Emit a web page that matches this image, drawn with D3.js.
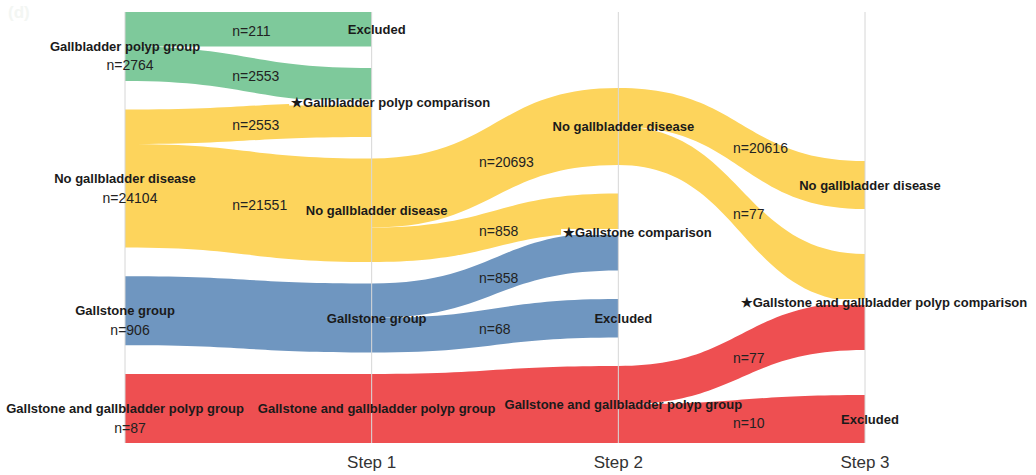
<!DOCTYPE html>
<html>
<head>
<meta charset="utf-8">
<script src="https://cdn.jsdelivr.net/npm/d3@7"></script>
<style>
  html, body { margin: 0; padding: 0; background: #fff; }
  svg { display: block; font-family: "Liberation Sans", Arial, sans-serif; }
</style>
</head>
<body>
<svg id="chart" width="1036" height="475"></svg>
<script>
// ---- data ----
const stepLabels = ['', 'Step 1', 'Step 2', 'Step 3'];

const nodeIds = ['gp0', 'nogbd0', 'gs0', 'gsgp0',
  'excl1', 'gpcmp1', 'nogbd1', 'gs1', 'gsgp1',
  'nogbd2', 'gscmp2', 'excl2', 'gsgp2',
  'nogbd3', 'gsgpcmp3', 'excl3'];
const nodeNames = ['Gallbladder polyp group', 'No gallbladder disease', 'Gallstone group', 'Gallstone and gallbladder polyp group',
  'Excluded', '\u2605Gallbladder polyp comparison', 'No gallbladder disease', 'Gallstone group', 'Gallstone and gallbladder polyp group',
  'No gallbladder disease', '\u2605Gallstone comparison', 'Excluded', 'Gallstone and gallbladder polyp group',
  'No gallbladder disease', '\u2605Gallstone and gallbladder polyp comparison', 'Excluded'];
const nodeSteps = [0, 0, 0, 0, 1, 1, 1, 1, 1, 2, 2, 2, 2, 3, 3, 3];

const linkSources = ['gp0', 'gp0', 'nogbd0', 'nogbd0', 'gs0', 'gsgp0',
  'nogbd1', 'nogbd1', 'gs1', 'gs1', 'gsgp1',
  'nogbd2', 'nogbd2', 'gsgp2', 'gsgp2'];
const linkTargets = ['excl1', 'gpcmp1', 'gpcmp1', 'nogbd1', 'gs1', 'gsgp1',
  'nogbd2', 'gscmp2', 'gscmp2', 'excl2', 'gsgp2',
  'nogbd3', 'gsgpcmp3', 'gsgpcmp3', 'excl3'];
const linkValues = [211, 2553, 2553, 21551, 906, 87,
  20693, 858, 858, 68, 87,
  20616, 77, 77, 10];
const linkGroups = ['gp', 'gp', 'nogbd', 'nogbd', 'gs', 'gsgp',
  'nogbd', 'nogbd', 'gs', 'gs', 'gsgp',
  'nogbd', 'nogbd', 'gsgp', 'gsgp'];

const groupKeys = ['gp', 'nogbd', 'gs', 'gsgp'];
const groupColors = ['#7ec99b', '#fdd45c', '#6f96c0', '#ee4f51'];

// ---- layout ----
const yTop = 12, yBottom = 443;
const colUnit = [34.5, 34.5, 38.5, 48];   // px per flow band in each column
const colGap = [28.7, 21.5, 28.5, 45];    // px between nodes in each column
const labelShift = [0.435, 0.435, 0.465]; // where the n= labels start between columns

const svg = d3.select('#chart');

const x = d3.scalePoint()
  .domain(d3.range(stepLabels.length))
  .range([125, 865]);

const color = d3.scaleOrdinal(groupKeys, groupColors);

const nodes = nodeIds.map((id, i) => ({ id, name: nodeNames[i], step: nodeSteps[i], ins: [], outs: [] }));
const byId = new Map(nodes.map(n => [n.id, n]));
const links = linkSources.map((s, i) => {
  const l = { source: byId.get(s), target: byId.get(linkTargets[i]), value: linkValues[i], group: linkGroups[i] };
  l.source.outs.push(l);
  l.target.ins.push(l);
  return l;
});

// band weight = number of end branches that a flow feeds
function weight(l) {
  if (l.w != null) return l.w;
  l.w = l.target.outs.length ? d3.sum(l.target.outs, weight) : 1;
  return l.w;
}
links.forEach(weight);

nodes.forEach(n => {
  n.units = Math.max(d3.sum(n.ins, l => l.w), d3.sum(n.outs, l => l.w));
  n.value = n.ins.length ? d3.sum(n.ins, l => l.value) : d3.sum(n.outs, l => l.value);
});

// stack nodes from the bottom of each column
d3.groups(nodes, n => n.step).forEach(([step, col]) => {
  let y = yBottom;
  col.slice().reverse().forEach(n => {
    n.y1 = y;
    n.y0 = y - n.units * colUnit[step];
    y = n.y0 - colGap[step];
  });
});

nodes.forEach(n => {
  let y = n.y0;
  n.outs.forEach(l => { l.sy0 = y; y += l.w * colUnit[n.step]; l.sy1 = y; });
  y = n.y0;
  n.ins.forEach(l => { l.ty0 = y; y += l.w * colUnit[n.step]; l.ty1 = y; });
});

function bandPath(l) {
  const x0 = x(l.source.step), x1 = x(l.target.step), xm = (x0 + x1) / 2;
  const p = d3.path();
  p.moveTo(x0, l.sy0);
  p.bezierCurveTo(xm, l.sy0, xm, l.ty0, x1, l.ty0);
  p.lineTo(x1, l.ty1);
  p.bezierCurveTo(xm, l.ty1, xm, l.sy1, x0, l.sy1);
  p.closePath();
  return p.toString();
}

// faint panel tag
svg.append('text')
  .attr('x', 8).attr('y', 18)
  .style('font-size', '17px').style('font-weight', 'bold')
  .style('fill', '#f3f6f3')
  .text('(d)');

// bands
svg.append('g').selectAll('path')
  .data(links)
  .join('path')
  .attr('d', bandPath)
  .attr('fill', d => color(d.group));

// column rules
svg.append('g').selectAll('line')
  .data(x.domain())
  .join('line')
  .attr('x1', d => x(d)).attr('x2', d => x(d))
  .attr('y1', yTop).attr('y2', yBottom)
  .attr('stroke', '#d6d6d6')
  .attr('stroke-width', 1);

// step labels
svg.append('g').selectAll('text')
  .data(x.domain().filter(d => stepLabels[d]))
  .join('text')
  .attr('x', d => x(d))
  .attr('y', 462)
  .attr('text-anchor', 'middle')
  .attr('dominant-baseline', 'central')
  .style('font-size', '17px')
  .style('fill', '#333')
  .text(d => stepLabels[d]);

// n labels on bands (only where a flow splits off)
const linkLabels = links.filter(l => l.value !== l.source.value);
svg.append('g').selectAll('text')
  .data(linkLabels)
  .join('text')
  .attr('x', l => x(l.source.step) + (x(l.target.step) - x(l.source.step)) * labelShift[l.source.step])
  .attr('y', l => ((l.sy0 + l.sy1) / 2 + (l.ty0 + l.ty1) / 2) / 2 + 2)
  .attr('dominant-baseline', 'central')
  .style('font-size', '14px')
  .style('fill', '#222')
  .text(l => 'n=' + l.value);

// node labels
const labelG = svg.append('g').selectAll('g')
  .data(nodes)
  .join('g')
  .attr('transform', n => {
    const star = n.name.startsWith('\u2605');
    const dx = n.step === 0 ? 0 : (star ? 19 : 5);
    return `translate(${x(n.step) + dx},${(n.y0 + n.y1) / 2})`;
  });

labelG.append('text')
  .attr('text-anchor', 'middle')
  .attr('dominant-baseline', 'central')
  .style('font-size', '13px')
  .style('font-weight', 'bold')
  .style('fill', '#1a1a1a')
  .text(n => n.name)
  .each(function(n) {
    // star labels sit on a thin white strip between the bands they join
    if (!n.name.startsWith('\u2605')) return;
    const b = this.getBBox();
    d3.select(this.parentNode).insert('rect', 'text')
      .attr('x', b.x - 2).attr('y', -3)
      .attr('width', b.width + 4).attr('height', 6)
      .attr('fill', '#fff');
  });

labelG.filter(n => n.step === 0)
  .append('text')
  .attr('x', 5)
  .attr('y', 19)
  .attr('text-anchor', 'middle')
  .attr('dominant-baseline', 'central')
  .style('font-size', '14px')
  .style('fill', '#222')
  .text(n => 'n=' + n.value);
</script>
</body>
</html>
